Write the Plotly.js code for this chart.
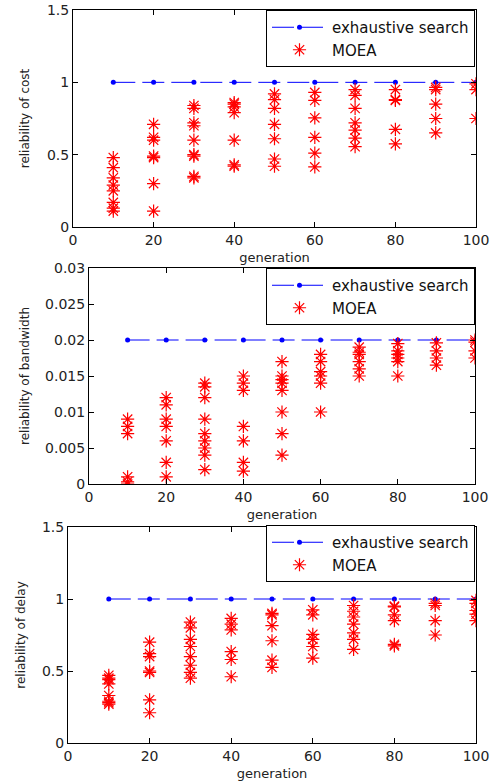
<!DOCTYPE html>
<html>
<head>
<meta charset="utf-8">
<script src="https://cdn.plot.ly/plotly-3.0.1.min.js"></script>
<style>html,body{margin:0;padding:0;background:#fff;}#chart{width:491px;height:783px;}</style>
</head>
<body>
<div id="chart"></div>
<script>
var generations = [10, 20, 30, 40, 50, 60, 70, 80, 90, 100];
var exhaustiveCost = [1, 1, 1, 1, 1, 1, 1, 1, 1, 1];
var exhaustiveBandwidth = [0.02, 0.02, 0.02, 0.02, 0.02, 0.02, 0.02, 0.02, 0.02, 0.02];
var exhaustiveDelay = [1, 1, 1, 1, 1, 1, 1, 1, 1, 1];

// MOEA results per generation
var moeaCost = {
  10: [0.48, 0.41, 0.34, 0.29, 0.25, 0.17, 0.13, 0.11],
  20: [0.71, 0.62, 0.60, 0.49, 0.48, 0.30, 0.11],
  30: [0.84, 0.82, 0.72, 0.70, 0.60, 0.50, 0.49, 0.35, 0.34],
  40: [0.86, 0.85, 0.83, 0.79, 0.60, 0.43, 0.42],
  50: [0.92, 0.88, 0.82, 0.71, 0.61, 0.47, 0.42],
  60: [0.93, 0.875, 0.755, 0.62, 0.51, 0.415],
  70: [0.95, 0.91, 0.82, 0.72, 0.67, 0.615, 0.555],
  80: [0.95, 0.88, 0.875, 0.675, 0.575],
  90: [0.965, 0.95, 0.85, 0.75, 0.65],
  100: [0.99, 0.95, 0.75]
};
var moeaBandwidth = {
  10: [0.009, 0.008, 0.007, 0.001, 0.0003, 0.0],
  20: [0.012, 0.011, 0.009, 0.008, 0.006, 0.003, 0.001],
  30: [0.014, 0.0135, 0.012, 0.009, 0.007, 0.006, 0.005, 0.004, 0.002],
  40: [0.015, 0.014, 0.013, 0.008, 0.006, 0.003, 0.0018],
  50: [0.017, 0.015, 0.0145, 0.014, 0.013, 0.010, 0.007, 0.004],
  60: [0.018, 0.017, 0.0156, 0.015, 0.014, 0.010],
  70: [0.019, 0.0183, 0.018, 0.017, 0.016, 0.015],
  80: [0.0195, 0.0185, 0.018, 0.0175, 0.017, 0.015],
  90: [0.0196, 0.0185, 0.0175, 0.0165],
  100: [0.02, 0.0197, 0.0185, 0.0175]
};
var moeaDelay = {
  10: [0.47, 0.45, 0.44, 0.41, 0.33, 0.29, 0.28, 0.27],
  20: [0.70, 0.62, 0.60, 0.50, 0.49, 0.30, 0.21],
  30: [0.84, 0.80, 0.72, 0.67, 0.60, 0.54, 0.49, 0.45],
  40: [0.865, 0.825, 0.785, 0.635, 0.58, 0.46],
  50: [0.90, 0.89, 0.815, 0.71, 0.575, 0.525],
  60: [0.925, 0.89, 0.755, 0.72, 0.67, 0.59],
  70: [0.955, 0.915, 0.875, 0.825, 0.765, 0.72, 0.65],
  80: [0.95, 0.945, 0.89, 0.85, 0.685, 0.675],
  90: [0.97, 0.955, 0.85, 0.75],
  100: [0.99, 0.97, 0.92, 0.895, 0.85]
};

var yTitles = ['reliability of cost', 'reliability of bandwidth', 'reliability of delay'];
var xTitle = 'generation';
var legendNames = ['exhaustive search', 'MOEA'];

function flatten(obj) {
  var xs = [], ys = [];
  generations.forEach(function (g) {
    (obj[g] || []).forEach(function (v) { xs.push(g); ys.push(v); });
  });
  return {x: xs, y: ys};
}

var exh = [exhaustiveCost, exhaustiveBandwidth, exhaustiveDelay];
var moea = [moeaCost, moeaBandwidth, moeaDelay];
var traces = [];
var suffix = ['', '2', '3'];
var legends = ['legend', 'legend2', 'legend3'];
for (var i = 0; i < 3; i++) {
  traces.push({
    x: generations, y: exh[i], type: 'scatter', mode: 'lines+markers',
    name: legendNames[0], xaxis: 'x' + suffix[i], yaxis: 'y' + suffix[i], legend: legends[i],
    line: {color: '#0000ff', width: 1, dash: '22px,7px'},
    marker: {color: '#0000ff', size: 5, symbol: 'circle'}
  });
  var f = flatten(moea[i]);
  traces.push({
    x: f.x, y: f.y, type: 'scatter', mode: 'markers',
    name: legendNames[1], xaxis: 'x' + suffix[i], yaxis: 'y' + suffix[i], legend: legends[i],
    marker: {symbol: 'asterisk-open', size: 11, color: '#ff0000', line: {color: '#ff0000', width: 1.2}}
  });
}

var W = 491, H = 783;
var boxes = [
  {l: 73, r: 476, t: 10, b: 227, range: [0, 1.5], dtick: 0.5, legT: 10, legR: 475, ys: 14},
  {l: 89, r: 475, t: 268, b: 484, range: [0, 0.03], dtick: 0.005, legT: 268, legR: 475, ys: 12},
  {l: 68, r: 476, t: 527, b: 743, range: [0, 1.5], dtick: 0.5, legT: 525, legR: 475, ys: 13}
];
var FONT = 'DejaVu Sans, Verdana, sans-serif';
var tickFont = {family: FONT, size: 14, color: '#222'};
var layout = {
  width: W, height: H,
  margin: {l: 0, r: 0, t: 0, b: 0},
  paper_bgcolor: '#fff', plot_bgcolor: '#fff',
  showlegend: true
};
boxes.forEach(function (b, i) {
  var xa = {
    domain: [b.l / W, b.r / W], range: [0, 100], dtick: 20, tick0: 0,
    showgrid: false, zeroline: false, showline: true, mirror: 'ticks',
    linecolor: '#000', linewidth: 1, ticks: 'inside', ticklen: 5, tickcolor: '#000',
    tickfont: tickFont, anchor: 'y' + suffix[i], automargin: false,
    title: {text: xTitle, font: {family: FONT, size: 13, color: '#222'}, standoff: 6}
  };
  var ya = {
    domain: [1 - b.b / H, 1 - b.t / H], range: b.range, dtick: b.dtick, tick0: 0,
    showgrid: false, zeroline: false, showline: true, mirror: 'ticks',
    linecolor: '#000', linewidth: 1, ticks: 'inside', ticklen: 5, tickcolor: '#000',
    tickfont: tickFont, anchor: 'x' + suffix[i], automargin: false,
    title: {text: yTitles[i], font: {family: FONT, size: 12, color: '#222'}, standoff: b.ys}
  };
  layout['xaxis' + suffix[i]] = xa;
  layout['yaxis' + suffix[i]] = ya;
  layout[legends[i]] = {
    x: b.legR / W, xanchor: 'right', y: 1 - b.legT / H, yanchor: 'top',
    bgcolor: '#fff', bordercolor: '#000', borderwidth: 1,
    font: {family: FONT, size: 15, color: '#111'},
    itemwidth: 55, tracegroupgap: 0
  };
});

Plotly.newPlot('chart', traces, layout, {displayModeBar: false, staticPlot: true});
</script>
</body>
</html>
